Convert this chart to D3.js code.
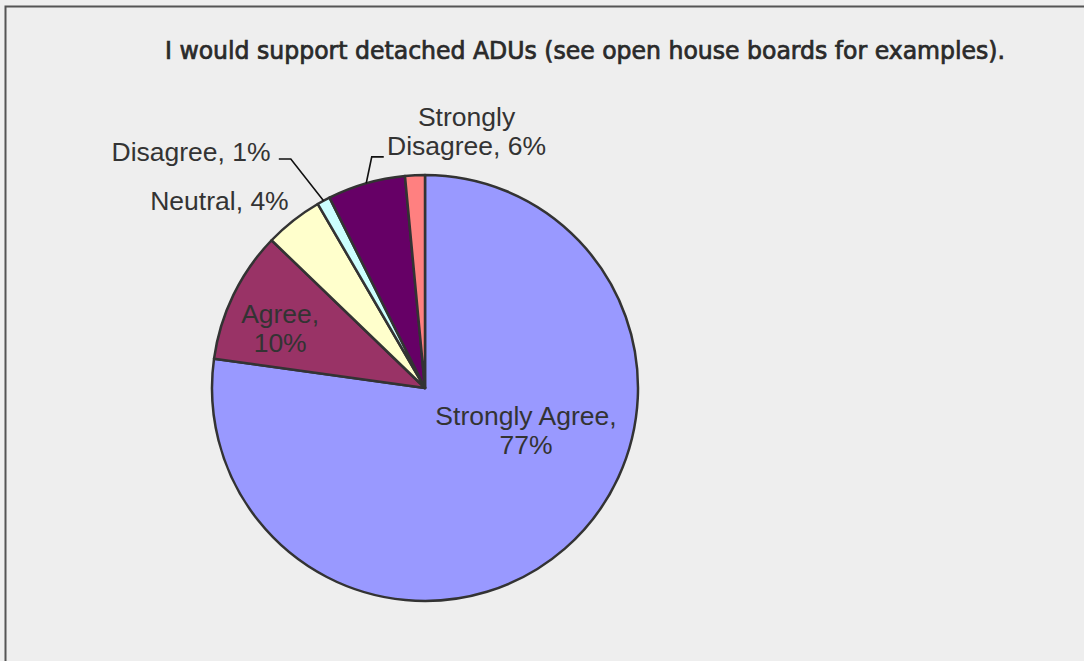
<!DOCTYPE html>
<html>
<head>
<meta charset="utf-8">
<script src="https://cdn.jsdelivr.net/npm/d3@7"></script>
<style>
  html, body { margin: 0; padding: 0; background: #efefef; overflow: hidden; }
  svg { display: block; font-family: "Liberation Sans", Arial, sans-serif; }
</style>
</head>
<body>
<div id="root"><svg></svg></div>
<script>
const width = 1084;
const height = 661;

// data (pie starts at 12 o'clock, clockwise)
const categories = ['Strongly Agree', 'Agree', 'Neutral', 'Disagree', 'Strongly Disagree', 'No Answer'];
const shares = [77.2, 10.0, 4.4, 1.0, 5.9, 1.5];
const colors = ['#9999ff', '#993366', '#ffffcc', '#ccffff', '#660066', '#ff8080'];
const labelLines = [
    ['Strongly Agree,', '{p}'],
    ['Agree,', '{p}'],
    ['Neutral, {p}'],
    ['Disagree, {p}'],
    ['Strongly', 'Disagree, {p}'],
    []
];
const title = 'I would support detached ADUs (see open house boards for examples).';

const cx = 425, cy = 388, radius = 213;
const lineH = 29;

// label placement, in radius units from the pie centre
const labelLayout = {
    'Strongly Agree':    { x: 0.474, y: 0.2, anchor: 'middle' },
    'Agree':             { x: -0.68, y: -0.279, anchor: 'middle' },
    'Neutral':           { x: -0.64, y: -0.878, anchor: 'end' },
    'Disagree':          { x: -0.725, y: -1.108, anchor: 'end', leader: [-0.63, -1.075] },
    'Strongly Disagree': { x: 0.195, y: -1.204, anchor: 'middle', leader: [-0.25, -1.085] }
};

const svg = d3.select('#root').select('svg')
    .attr('width', width)
    .attr('height', height);

// chart area with its frame
svg.append('rect')
    .attr('x', 5.5).attr('y', 6.5)
    .attr('width', width + 10).attr('height', height + 10)
    .attr('fill', '#eeeeee')
    .attr('stroke', '#555')
    .attr('stroke-width', 2);

svg.append('text')
    .attr('x', 585).attr('y', 59)
    .attr('text-anchor', 'middle')
    .attr('font-family', '"DejaVu Sans Condensed", "DejaVu Sans", sans-serif')
    .attr('font-stretch', 'condensed')
    .attr('font-size', '25px')
    .attr('font-weight', 'normal')
    .attr('fill', '#2a2a2a')
    .attr('stroke', '#2a2a2a')
    .attr('stroke-width', 0.7)
    .attr('textLength', 840)
    .attr('lengthAdjust', 'spacingAndGlyphs')
    .text(title);

const data = categories.map((c, i) => ({ name: c, value: shares[i], color: colors[i], lines: labelLines[i] }));

const pie = d3.pie().value(d => d.value).sort(null);
const arcs = pie(data);
const arc = d3.arc().innerRadius(0).outerRadius(radius);
const edgeArc = d3.arc().innerRadius(radius).outerRadius(radius);

const g = svg.append('g').attr('transform', `translate(${cx},${cy})`);

g.selectAll('path.slice')
    .data(arcs)
    .enter()
    .append('path')
    .attr('class', 'slice')
    .attr('d', arc)
    .attr('fill', d => d.data.color)
    .attr('stroke', '#333')
    .attr('stroke-width', 2.5)
    .attr('stroke-linejoin', 'round');

const labelled = arcs.filter(d => labelLayout[d.data.name]);

// leader lines from the rim to the label
labelled.filter(d => labelLayout[d.data.name].leader).forEach(d => {
    const L = labelLayout[d.data.name];
    const p0 = edgeArc.centroid(d);
    const p1 = [L.leader[0] * radius, L.leader[1] * radius];
    const dir = L.anchor === 'end' ? -1 : 1;
    const p2 = [p1[0] + dir * 12, p1[1]];
    g.append('path')
        .attr('d', d3.line()([p0, p1, p2]))
        .attr('fill', 'none')
        .attr('stroke', '#111')
        .attr('stroke-width', 1.6);
});

const pct = d => Math.round(d.value) + '%';

labelled.forEach(d => {
    const L = labelLayout[d.data.name];
    const lines = d.data.lines.map(s => s.replace('{p}', pct(d.data)));
    const t = g.append('text')
        .attr('x', L.x * radius)
        .attr('y', L.y * radius)
        .attr('text-anchor', L.anchor)
        .attr('font-size', '26.5px')
        .attr('fill', '#333');
    const y0 = -(lines.length - 1) * lineH / 2;
    lines.forEach((s, i) => {
        t.append('tspan')
            .attr('x', L.x * radius)
            .attr('dy', i === 0 ? y0 + 9 : lineH)
            .text(s);
    });
});
</script>
</body>
</html>
